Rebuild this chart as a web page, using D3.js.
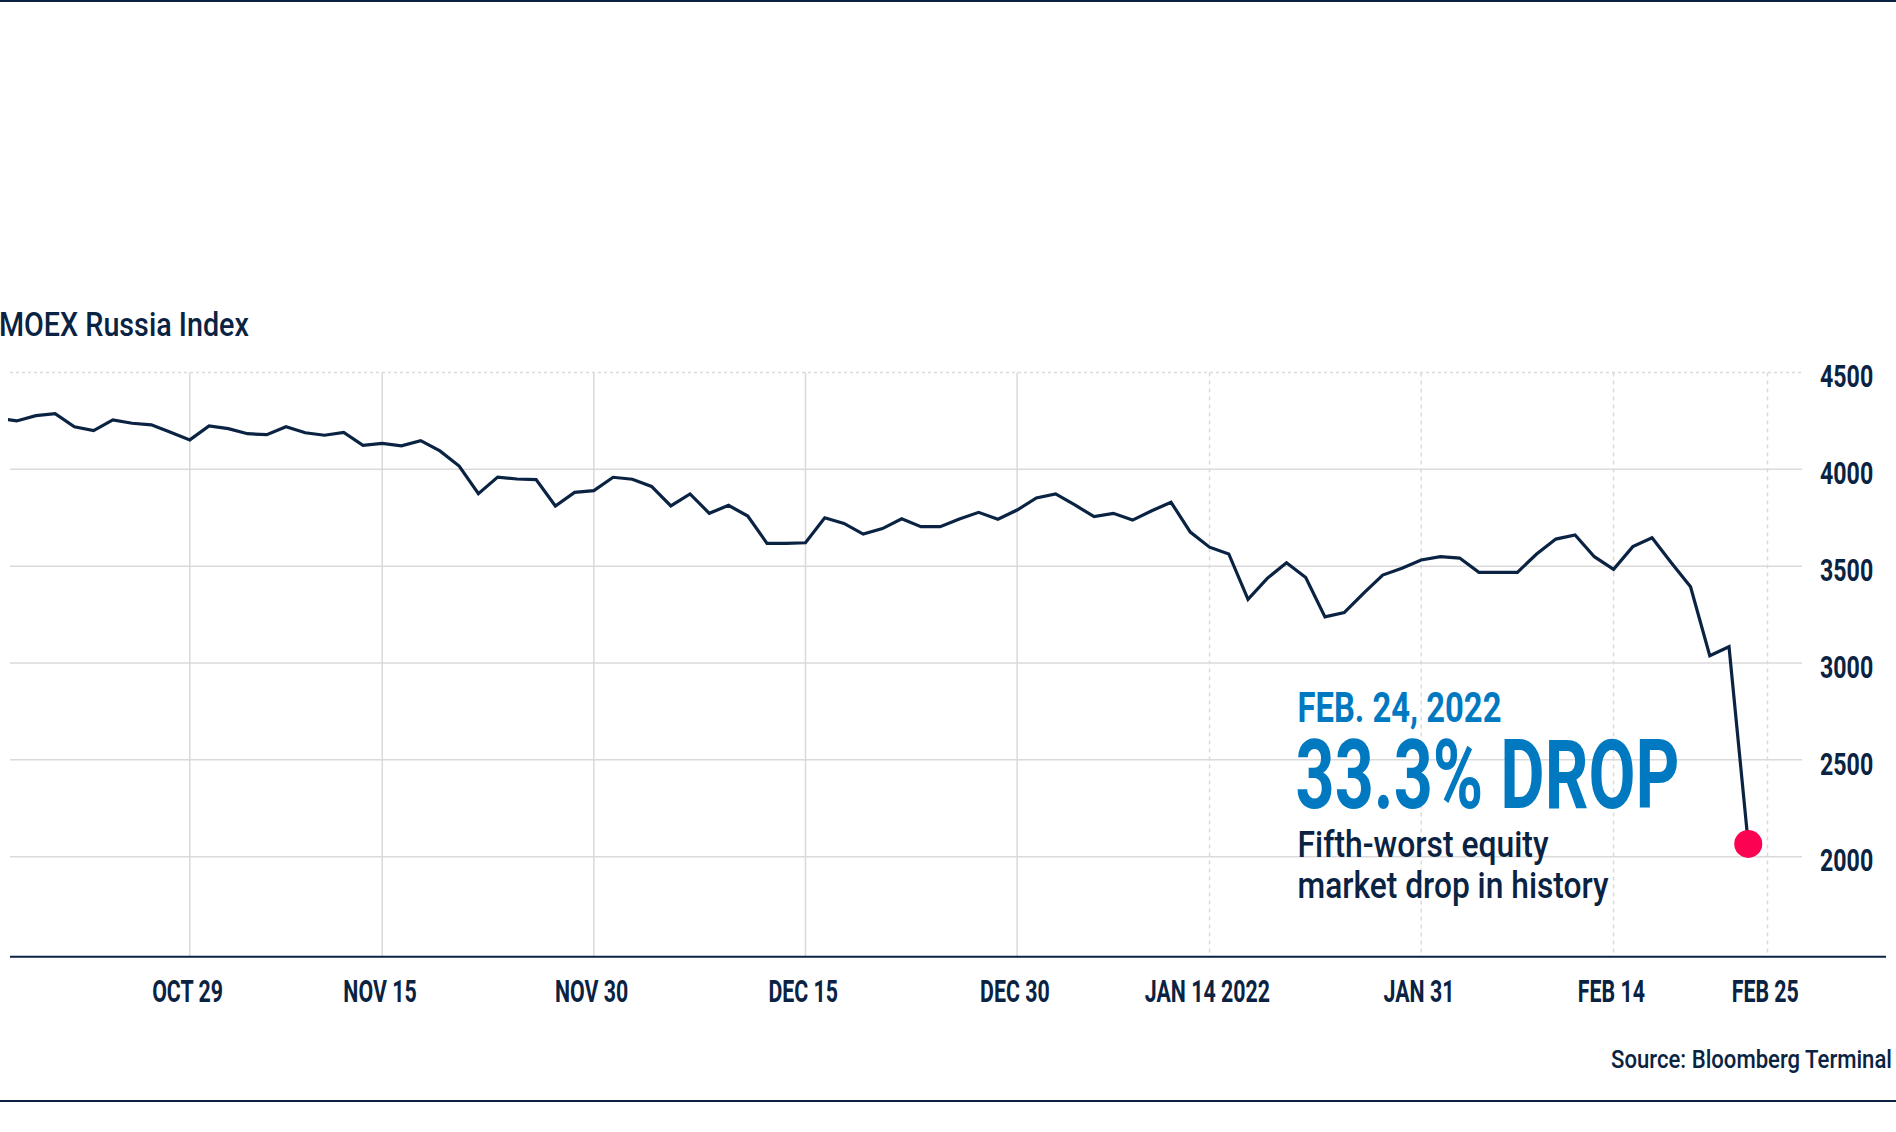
<!DOCTYPE html>
<html><head><meta charset="utf-8">
<script src="https://cdn.jsdelivr.net/npm/d3@7"></script>
<style>
html,body{margin:0;padding:0;background:#fff;}
svg{display:block;}
text{font-family:Roboto,"Open Sans",sans-serif;}
</style></head><body>
<svg id="chart" width="1896" height="1132"></svg>
<script>
// ---------- data ----------
const dates = [
 "2021-10-15","2021-10-18","2021-10-19","2021-10-20","2021-10-21","2021-10-22","2021-10-25","2021-10-26","2021-10-27","2021-10-28",
 "2021-10-29","2021-11-01","2021-11-02","2021-11-03","2021-11-05","2021-11-08","2021-11-09","2021-11-10","2021-11-11","2021-11-12",
 "2021-11-15","2021-11-16","2021-11-17","2021-11-18","2021-11-19","2021-11-22","2021-11-23","2021-11-24","2021-11-25","2021-11-26",
 "2021-11-29","2021-11-30","2021-12-01","2021-12-02","2021-12-03","2021-12-06","2021-12-07","2021-12-08","2021-12-09","2021-12-10",
 "2021-12-13","2021-12-14","2021-12-15","2021-12-16","2021-12-17","2021-12-20","2021-12-21","2021-12-22","2021-12-23","2021-12-24",
 "2021-12-27","2021-12-28","2021-12-29","2021-12-30","2021-12-31","2022-01-03","2022-01-04","2022-01-05","2022-01-06","2022-01-10",
 "2022-01-11","2022-01-12","2022-01-13","2022-01-14","2022-01-17","2022-01-18","2022-01-19","2022-01-20","2022-01-21","2022-01-24",
 "2022-01-25","2022-01-26","2022-01-27","2022-01-28","2022-01-31","2022-02-01","2022-02-02","2022-02-03","2022-02-04","2022-02-07",
 "2022-02-08","2022-02-09","2022-02-10","2022-02-11","2022-02-14","2022-02-15","2022-02-16","2022-02-17","2022-02-18","2022-02-21",
 "2022-02-22","2022-02-24","2022-02-25"
];
const values = [
 4265,4250,4277,4287,4220,4200,4255,4238,4230,4191,
 4152,4224,4210,4184,4179,4220,4189,4176,4191,4124,
 4134,4121,4148,4095,4017,3874,3960,3950,3947,3811,
 3881,3890,3959,3949,3912,3811,3873,3773,3814,3759,
 3618,3618,3621,3750,3721,3666,3694,3745,3704,3704,
 3744,3778,3742,3790,3852,3873,3816,3756,3773,3738,
 3786,3830,3676,3598,3563,3329,3437,3518,3441,3238,
 3260,3360,3454,3489,3532,3549,3542,3468,3468,3468,
 3563,3640,3661,3549,3484,3601,3647,3518,3394,3038,
 3084,2066
];
const yTicks = [2000, 2500, 3000, 3500, 4000, 4500];
const xTickDates = ["2021-10-29","2021-11-15","2021-11-30","2021-12-15","2021-12-30","2022-01-14","2022-01-31","2022-02-14","2022-02-25"];
const xTickLabels = ["OCT 29","NOV 15","NOV 30","DEC 15","DEC 30","JAN 14 2022","JAN 31","FEB 14","FEB 25"];
const titleText = "MOEX Russia Index";
const sourceText = "Source: Bloomberg Terminal";
const noteDate = "FEB. 24, 2022";
const noteHead = "33.3% DROP";
const noteLines = ["Fifth-worst equity", "market drop in history"];

// ---------- layout ----------
const W = 1896, H = 1132;
const NAVY = "#0b2343", BLUE = "#0079c1", RED = "#fb0352", GRID = "#dadada";
const plot = {left: 10, right: 1802, top: 372.5, bottom: 956.7};

const svg = d3.select("#chart");
const x = d3.scalePoint().domain(dates).range([-2.6, 1767.5]);
const y = d3.scaleLinear().domain([2000, 4500]).range([856.7, 372.5]);

// condensed look: horizontally scale text glyphs
function squeeze(sel, k) {
  sel.attr("transform", `scale(${k},1)`);
}
function label(px, py, str, size, weight, color, width, anchor) {
  const g = svg.append("g");
  const t = g.append("text").text(str)
    .attr("font-size", size).attr("font-weight", weight).attr("fill", color)
    .attr("text-anchor", anchor || "start");
  const k = width / t.node().getComputedTextLength();
  g.attr("transform", `translate(${px},${py}) scale(${k},1)`);
  return t;
}

// frame lines
svg.append("line").attr("x1", 0).attr("x2", W).attr("y1", 1).attr("y2", 1)
  .attr("stroke", NAVY).attr("stroke-width", 2);
svg.append("line").attr("x1", 0).attr("x2", W).attr("y1", 1101).attr("y2", 1101)
  .attr("stroke", NAVY).attr("stroke-width", 2);

// horizontal grid
const yMax = d3.max(yTicks);
svg.append("g").selectAll("line").data(yTicks).join("line")
  .attr("x1", plot.left).attr("x2", plot.right)
  .attr("y1", d => y(d)).attr("y2", d => y(d))
  .attr("stroke", GRID).attr("stroke-width", 1.5)
  .attr("stroke-dasharray", d => d === yMax ? "3,3" : null);

// vertical grid
svg.append("g").selectAll("line").data(xTickDates).join("line")
  .attr("x1", d => x(d)).attr("x2", d => x(d))
  .attr("y1", plot.top).attr("y2", plot.bottom)
  .attr("stroke", GRID).attr("stroke-width", 1.5)
  .attr("stroke-dasharray", d => d.startsWith("2022") ? "4,4" : null);

// x axis
const xAxis = svg.append("g").attr("transform", `translate(0,${plot.bottom})`)
  .call(d3.axisBottom(x).tickValues(xTickDates).tickFormat((d, i) => xTickLabels[i]).tickSize(0));
xAxis.select(".domain").remove();
xAxis.selectAll("text")
  .attr("y", 45.6).attr("dy", null).attr("x", -4)
  .attr("fill", NAVY).attr("font-size", 31.4).attr("font-weight", 700)
  .attr("font-family", "Roboto, sans-serif");
squeeze(xAxis.selectAll("text"), 0.68);
svg.append("line").attr("x1", plot.left).attr("x2", 1886)
  .attr("y1", plot.bottom).attr("y2", plot.bottom)
  .attr("stroke", NAVY).attr("stroke-width", 2);

// y axis
const yAxis = svg.append("g").attr("transform", "translate(1820,0)")
  .call(d3.axisRight(y).tickValues(yTicks).tickFormat(d3.format("d")).tickSize(0));
yAxis.select(".domain").remove();
yAxis.selectAll("text")
  .attr("x", 0).attr("dy", null).attr("y", 14.2).attr("text-anchor", "start")
  .attr("fill", NAVY).attr("font-size", 30.5).attr("font-weight", 700)
  .attr("font-family", "Roboto, sans-serif");
squeeze(yAxis.selectAll("text"), 0.76);

// line
svg.append("clipPath").attr("id", "clip").append("rect")
  .attr("x", 8).attr("y", 0).attr("width", plot.right - 8).attr("height", H);
const line = d3.line().x((d, i) => x(dates[i])).y(d => y(d));
svg.append("path").datum(values)
  .attr("clip-path", "url(#clip)")
  .attr("d", line).attr("fill", "none")
  .attr("stroke", NAVY).attr("stroke-width", 3.2).attr("stroke-linejoin", "miter");

// end dot
const last = values.length - 1;
svg.append("circle").attr("cx", x(dates[last])).attr("cy", y(values[last])).attr("r", 14)
  .attr("fill", RED);

// title & source
label(-1, 335.7, titleText, 34, 500, NAVY, 250);
label(1892, 1068.3, sourceText, 25.7, 500, NAVY, 281, "end");

// annotation
label(1297.5, 721.7, noteDate, 42.2, 700, BLUE, 204);
label(1295.5, 808.3, noteHead, 96, 700, BLUE, 384);
const noteW = [251, 311];
noteLines.forEach((t, i) => label(1297.5, 857.3 + i * 41, t, 36.1, 500, NAVY, noteW[i]));
</script>
</body></html>
